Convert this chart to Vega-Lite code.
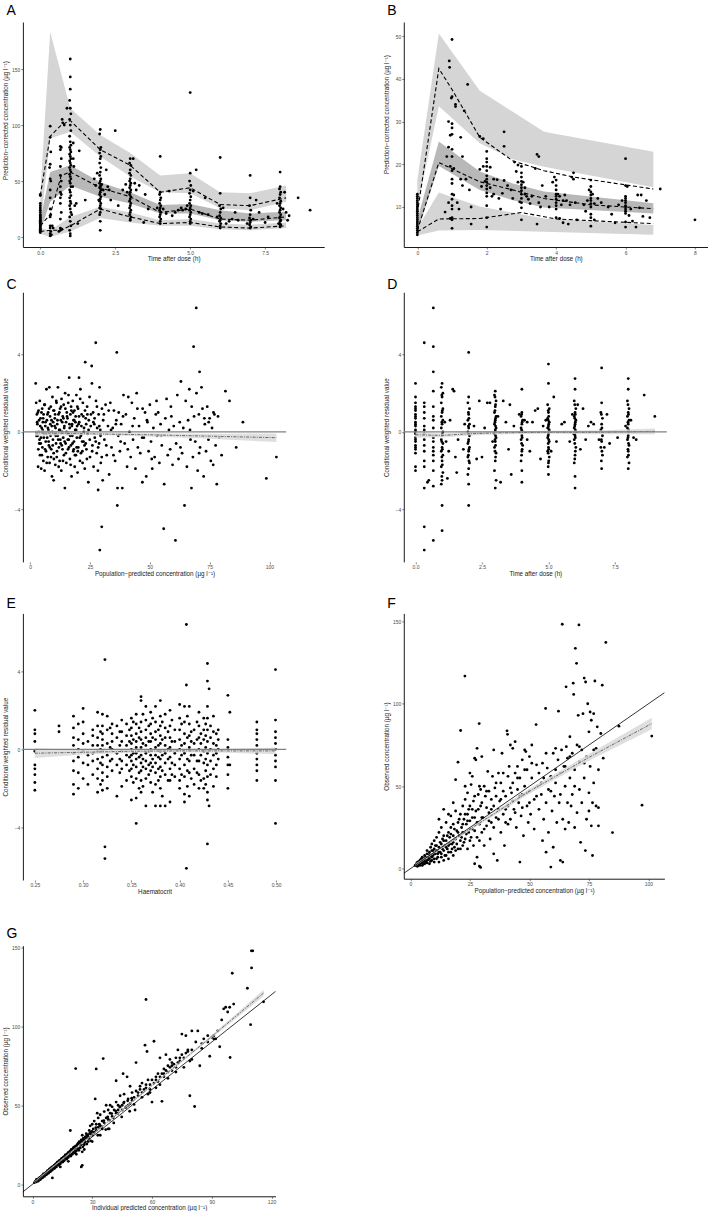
{
"$schema": "https://vega.github.io/schema/vega-lite/v6.json",
"background": "white",
"padding": {"left": 1.9, "top": 4, "right": 0, "bottom": 0},
"columns": 2,
"align": "each",
"spacing": {"row": 16.2, "column": 57.9},
"resolve": {"scale": {"x": "independent", "y": "independent"}, "axis": {"x": "independent", "y": "independent"}},
"datasets": {
"a_pi": [
{"g":"lo","x":0,"lo":3,"hi":8},{"g":"lo","x":0.33,"lo":0,"hi":6},{"g":"lo","x":1,"lo":5,"hi":18},{"g":"lo","x":2,"lo":17,"hi":27},{"g":"lo","x":3,"lo":13,"hi":22},{"g":"lo","x":4,"lo":10,"hi":15},{"g":"lo","x":5,"lo":10,"hi":16},{"g":"lo","x":6,"lo":7,"hi":12},{"g":"lo","x":7,"lo":6,"hi":11},{"g":"lo","x":8.2,"lo":8,"hi":13},
{"g":"hi","x":0,"lo":8,"hi":38},{"g":"hi","x":0.33,"lo":88,"hi":183},{"g":"hi","x":1,"lo":94,"hi":115},{"g":"hi","x":2,"lo":72,"hi":91},{"g":"hi","x":3,"lo":54,"hi":75},{"g":"hi","x":4,"lo":40,"hi":55},{"g":"hi","x":5,"lo":39,"hi":57},{"g":"hi","x":6,"lo":25.6,"hi":40},{"g":"hi","x":7,"lo":24,"hi":39},{"g":"hi","x":8.2,"lo":31.5,"hi":46}],
"a_med": [
{"x":0,"lo":5,"hi":15},{"x":0.33,"lo":31.5,"hi":58},{"x":1,"lo":46,"hi":64},{"x":2,"lo":36,"hi":49},{"x":3,"lo":30,"hi":40},{"x":4,"lo":21,"hi":28.5},{"x":5,"lo":21,"hi":29.5},{"x":6,"lo":15,"hi":24},{"x":7,"lo":13.7,"hi":21},{"x":8.2,"lo":15,"hi":22.6}],
"a_line": [
{"g":"p95","x":0,"y":37},{"g":"p95","x":0.33,"y":90},{"g":"p95","x":0.7,"y":100},{"g":"p95","x":1,"y":104},{"g":"p95","x":2,"y":78},{"g":"p95","x":3,"y":64},{"g":"p95","x":4,"y":40},{"g":"p95","x":5,"y":44},{"g":"p95","x":6,"y":29},{"g":"p95","x":7,"y":28},{"g":"p95","x":8.2,"y":35},
{"g":"p50","x":0,"y":10},{"g":"p50","x":0.33,"y":20},{"g":"p50","x":0.7,"y":55},{"g":"p50","x":1,"y":58},{"g":"p50","x":2,"y":44},{"g":"p50","x":3,"y":36},{"g":"p50","x":4,"y":22},{"g":"p50","x":5,"y":25},{"g":"p50","x":6,"y":16},{"g":"p50","x":7,"y":15},{"g":"p50","x":8.2,"y":18},
{"g":"p05","x":0,"y":5},{"g":"p05","x":0.33,"y":6},{"g":"p05","x":0.7,"y":6},{"g":"p05","x":1,"y":10},{"g":"p05","x":2,"y":25},{"g":"p05","x":3,"y":18},{"g":"p05","x":4,"y":12},{"g":"p05","x":5,"y":13},{"g":"p05","x":6,"y":9},{"g":"p05","x":7,"y":8},{"g":"p05","x":8.2,"y":10}],
"a_pts": [
{"x":0,"y":4},{"x":0,"y":5},{"x":0,"y":6},{"x":0,"y":7},{"x":0,"y":8},{"x":0,"y":9},{"x":0,"y":10},{"x":0,"y":11},{"x":0,"y":12},{"x":0,"y":13},{"x":0,"y":14},{"x":0,"y":15},{"x":0,"y":16},{"x":0,"y":17},{"x":0,"y":18},{"x":0,"y":19},{"x":0,"y":20},{"x":0,"y":22},{"x":0,"y":24},{"x":0,"y":26},{"x":0,"y":28},{"x":0,"y":30},{"x":0,"y":37},{"x":0,"y":38},
{"x":0.33,"y":99},{"x":0.33,"y":89},{"x":0.35,"y":76},{"x":0.33,"y":65},{"x":0.31,"y":62},{"x":0.33,"y":52},{"x":0.35,"y":50},{"x":0.33,"y":42},{"x":0.33,"y":35},{"x":0.33,"y":25},{"x":0.35,"y":20},{"x":0.33,"y":18},{"x":0.33,"y":10},{"x":0.4,"y":10},{"x":0.43,"y":8},{"x":0.33,"y":8},{"x":0.35,"y":5},{"x":0.33,"y":3},{"x":0.37,"y":2},{"x":0.33,"y":1},
{"x":0.73,"y":105},{"x":0.75,"y":102},{"x":0.8,"y":100},{"x":0.67,"y":81},{"x":0.7,"y":80},{"x":0.67,"y":78},{"x":0.7,"y":70},{"x":0.67,"y":63},{"x":0.67,"y":55},{"x":0.7,"y":50},{"x":0.67,"y":45},{"x":0.67,"y":40},{"x":0.7,"y":38},{"x":0.67,"y":35},{"x":0.67,"y":30},{"x":0.7,"y":22},{"x":0.67,"y":16},{"x":0.67,"y":8},{"x":0.72,"y":7},{"x":0.67,"y":6},{"x":0.62,"y":5},{"x":0.89,"y":115},
{"x":1,"y":159},{"x":1,"y":143},{"x":1,"y":132},{"x":0.98,"y":122},{"x":1,"y":115},{"x":1.02,"y":110},{"x":0.98,"y":105},{"x":1,"y":100},{"x":1.02,"y":95},{"x":0.98,"y":90},{"x":1,"y":85},{"x":1.02,"y":82},{"x":0.98,"y":80},{"x":1,"y":78},{"x":1.02,"y":76},{"x":0.98,"y":74},{"x":1,"y":72},{"x":1.02,"y":70},{"x":0.98,"y":68},{"x":1,"y":66},{"x":1.02,"y":64},{"x":0.98,"y":62},{"x":1,"y":60},{"x":1.02,"y":58},{"x":0.98,"y":56},{"x":1,"y":54},{"x":1.02,"y":52},{"x":0.98,"y":50},{"x":1,"y":48},{"x":1.02,"y":45},{"x":0.98,"y":42},{"x":1,"y":40},{"x":1.02,"y":37},{"x":0.98,"y":35},{"x":1,"y":32},{"x":1.02,"y":30},{"x":0.98,"y":28},{"x":1,"y":25},{"x":1.02,"y":22},{"x":0.98,"y":18},{"x":1,"y":14},{"x":1.02,"y":10},{"x":0.98,"y":6},{"x":1,"y":3},{"x":1,"y":1},
{"x":1.1,"y":84},{"x":1.12,"y":63},{"x":1.15,"y":28},{"x":1.2,"y":30},{"x":1.25,"y":12},{"x":1.3,"y":77},{"x":1.5,"y":33},{"x":1.1,"y":70},{"x":1.05,"y":20},{"x":1.08,"y":45},
{"x":2,"y":96},{"x":1.98,"y":92},{"x":2.02,"y":80},{"x":2,"y":78},{"x":1.98,"y":75},{"x":2.02,"y":72},{"x":2,"y":70},{"x":1.98,"y":66},{"x":2.02,"y":62},{"x":2,"y":58},{"x":1.98,"y":55},{"x":2.02,"y":52},{"x":2,"y":50},{"x":1.98,"y":48},{"x":2.02,"y":46},{"x":2,"y":45},{"x":1.98,"y":44},{"x":2.02,"y":42},{"x":2,"y":40},{"x":1.98,"y":38},{"x":2.02,"y":36},{"x":2,"y":34},{"x":1.98,"y":32},{"x":2.02,"y":30},{"x":2,"y":28},{"x":1.98,"y":26},{"x":2.02,"y":25},{"x":2,"y":22},{"x":1.98,"y":20},{"x":2,"y":14},{"x":2,"y":6},
{"x":1.9,"y":57},{"x":1.95,"y":33},{"x":2.05,"y":47},{"x":2.1,"y":42},{"x":2.15,"y":38},{"x":2.2,"y":60},{"x":2.25,"y":45},{"x":2.3,"y":42},{"x":2.5,"y":95},{"x":2.35,"y":33},{"x":2.6,"y":28},{"x":1.85,"y":46},{"x":1.8,"y":52},
{"x":3,"y":70},{"x":2.98,"y":66},{"x":3.02,"y":64},{"x":3,"y":60},{"x":2.98,"y":57},{"x":3.02,"y":55},{"x":3,"y":52},{"x":2.98,"y":50},{"x":3.02,"y":48},{"x":3,"y":46},{"x":2.98,"y":44},{"x":3.02,"y":42},{"x":3,"y":40},{"x":2.98,"y":38},{"x":3.02,"y":36},{"x":3,"y":34},{"x":2.98,"y":32},{"x":3.02,"y":30},{"x":3,"y":28},{"x":2.98,"y":26},{"x":3.02,"y":24},{"x":3,"y":22},{"x":2.98,"y":20},{"x":3.02,"y":18},{"x":3,"y":16},{"x":3,"y":15},
{"x":3.1,"y":70},{"x":3.15,"y":48},{"x":3.2,"y":42},{"x":3.3,"y":46},{"x":3.45,"y":13},{"x":3.5,"y":38},{"x":2.9,"y":40},{"x":2.85,"y":47},{"x":3.6,"y":25},{"x":2.75,"y":42},
{"x":4,"y":72},{"x":4,"y":40},{"x":3.98,"y":38},{"x":4.02,"y":35},{"x":4,"y":33},{"x":3.98,"y":30},{"x":4.02,"y":28},{"x":4,"y":26},{"x":3.98,"y":24},{"x":4.02,"y":22},{"x":4,"y":20},{"x":3.98,"y":18},{"x":4.02,"y":16},{"x":4,"y":14},{"x":4,"y":12},
{"x":4.1,"y":25},{"x":4.2,"y":21},{"x":4.3,"y":41},{"x":4.5,"y":22},{"x":4.6,"y":24},{"x":4.7,"y":26},{"x":4.4,"y":19},{"x":3.9,"y":26},
{"x":5,"y":129},{"x":5,"y":57},{"x":4.98,"y":50},{"x":5.02,"y":46},{"x":5,"y":42},{"x":4.98,"y":39},{"x":5.02,"y":36},{"x":5,"y":33},{"x":4.98,"y":30},{"x":5.02,"y":28},{"x":5,"y":26},{"x":4.98,"y":24},{"x":5.02,"y":22},{"x":5,"y":20},{"x":4.98,"y":18},{"x":5.02,"y":16},{"x":5,"y":14},{"x":5,"y":12},
{"x":5.2,"y":60},{"x":5.1,"y":41},{"x":5.3,"y":22},{"x":5.5,"y":35},{"x":5.6,"y":20},{"x":4.9,"y":28},{"x":4.85,"y":25},{"x":4.75,"y":24},{"x":5.4,"y":21},
{"x":6,"y":71},{"x":6,"y":39},{"x":5.98,"y":28},{"x":6.02,"y":25},{"x":6,"y":22},{"x":5.98,"y":19},{"x":6.02,"y":17},{"x":6,"y":15},{"x":5.98,"y":14},{"x":6.02,"y":12},{"x":6,"y":10},{"x":6,"y":8},
{"x":6.1,"y":26},{"x":6.2,"y":12},{"x":6.3,"y":14},{"x":6.5,"y":22},{"x":6.6,"y":15},{"x":6.4,"y":16},{"x":5.9,"y":18},
{"x":7,"y":55},{"x":7,"y":35},{"x":6.98,"y":28},{"x":7.02,"y":24},{"x":7,"y":20},{"x":6.98,"y":17},{"x":7.02,"y":15},{"x":7,"y":13},{"x":6.98,"y":11},{"x":7.02,"y":9},{"x":7,"y":8},
{"x":7.1,"y":16},{"x":7.2,"y":33},{"x":7.3,"y":22},{"x":7.5,"y":13},{"x":7.6,"y":18},{"x":6.9,"y":12},
{"x":8,"y":58},{"x":8,"y":45},{"x":7.98,"y":43},{"x":8.02,"y":40},{"x":8,"y":38},{"x":7.98,"y":35},{"x":8.02,"y":32},{"x":8,"y":30},{"x":7.98,"y":28},{"x":8.02,"y":26},{"x":8,"y":24},{"x":7.98,"y":22},{"x":8.02,"y":20},{"x":8,"y":18},{"x":7.98,"y":17},{"x":8.02,"y":15},{"x":8,"y":14},{"x":7.98,"y":12},{"x":8.02,"y":11},{"x":8,"y":10},{"x":8,"y":9},
{"x":8.1,"y":25},{"x":8.15,"y":40},{"x":8.2,"y":22},{"x":8.25,"y":15},{"x":8.3,"y":19},{"x":7.9,"y":30},{"x":7.95,"y":12},{"x":8.6,"y":35},{"x":9.0,"y":24}],
"b_pi": [
{"g":"lo","x":0,"lo":3.3,"hi":5},{"g":"lo","x":0.62,"lo":4.5,"hi":13.4},{"g":"lo","x":1.8,"lo":4.6,"hi":10.1},{"g":"lo","x":3.65,"lo":4.2,"hi":7.3},{"g":"lo","x":6.8,"lo":3.5,"hi":5.8},
{"g":"hi","x":0,"lo":10,"hi":16.3},{"g":"hi","x":0.62,"lo":33.6,"hi":50.6},{"g":"hi","x":1.8,"lo":24.9,"hi":37.2},{"g":"hi","x":2.75,"lo":21.2,"hi":32.3},{"g":"hi","x":3.65,"lo":19.4,"hi":27.6},{"g":"hi","x":6.8,"lo":14.6,"hi":22.9}],
"b_med": [
{"x":0,"lo":4,"hi":7},{"x":0.62,"lo":19.6,"hi":25.3},{"x":1.8,"lo":14,"hi":18.3},{"x":2.75,"lo":11.6,"hi":15.5},{"x":3.65,"lo":9.9,"hi":13.6},{"x":6.8,"lo":8.5,"hi":10.9}],
"b_line": [
{"g":"p95","x":0,"y":8.5},{"g":"p95","x":0.62,"y":42.4},{"g":"p95","x":1.0,"y":37.5},{"g":"p95","x":1.8,"y":26.3},{"g":"p95","x":2.75,"y":20.8},{"g":"p95","x":3.65,"y":18.5},{"g":"p95","x":4.5,"y":17},{"g":"p95","x":6.8,"y":14.2},
{"g":"p50","x":0,"y":4.5},{"g":"p50","x":0.62,"y":20.4},{"g":"p50","x":1.8,"y":15.9},{"g":"p50","x":2.75,"y":14},{"g":"p50","x":3.65,"y":12},{"g":"p50","x":5,"y":10.5},{"g":"p50","x":6.8,"y":9.6},
{"g":"p05","x":0,"y":4.2},{"g":"p05","x":0.62,"y":7.2},{"g":"p05","x":1.8,"y":7.3},{"g":"p05","x":3,"y":8.7},{"g":"p05","x":4,"y":7.2},{"g":"p05","x":5,"y":6.8},{"g":"p05","x":6.8,"y":6.1}],
"b_pts": [
{"x":0,"y":3.5},{"x":0,"y":4},{"x":0,"y":4.5},{"x":0,"y":5},{"x":0,"y":5.5},{"x":0,"y":6},{"x":0,"y":6.5},{"x":0,"y":7},{"x":0,"y":7.5},{"x":0,"y":8},{"x":0,"y":8.5},{"x":0,"y":9},{"x":0,"y":9.5},{"x":0,"y":10},{"x":0,"y":10.5},{"x":0,"y":11},{"x":0,"y":11.5},{"x":0,"y":12},{"x":0,"y":12.5},{"x":0,"y":13},
{"x":0.8,"y":8.8},{"x":0.85,"y":21.8},{"x":0.9,"y":30},{"x":0.9,"y":24},{"x":0.92,"y":44.2},{"x":0.93,"y":42.7},{"x":0.95,"y":26.8},{"x":0.95,"y":19.5},{"x":0.98,"y":35.5},{"x":1.0,"y":49.2},{"x":1.0,"y":35.8},{"x":1.0,"y":29.5},{"x":1.0,"y":28.5},{"x":1.0,"y":27},{"x":1.0,"y":23.5},{"x":1.0,"y":21.8},{"x":1.0,"y":18.5},{"x":1.0,"y":16.5},{"x":1.0,"y":15.5},{"x":1.0,"y":13},{"x":1.0,"y":11.8},{"x":1.0,"y":10.3},{"x":1.0,"y":7.5},{"x":1.0,"y":7},{"x":1.0,"y":5},{"x":1.05,"y":19},{"x":1.05,"y":12.8},{"x":1.1,"y":34},{"x":1.1,"y":33.5},{"x":1.15,"y":11},{"x":1.2,"y":9.5},{"x":1.25,"y":26.3},{"x":1.25,"y":16.5},{"x":1.3,"y":21.8},{"x":1.3,"y":15},{"x":1.35,"y":32.5},{"x":1.4,"y":16.5},{"x":1.45,"y":38.7},{"x":1.5,"y":14},{"x":1.55,"y":6},{"x":1.55,"y":10},{"x":0.9,"y":11},{"x":0.95,"y":7.3},{"x":1.0,"y":9.5},
{"x":1.8,"y":26.5},{"x":1.8,"y":18.8},{"x":1.85,"y":14.8},{"x":1.9,"y":26},{"x":1.9,"y":19.5},{"x":1.95,"y":16},{"x":2.0,"y":23},{"x":2.0,"y":21.3},{"x":2.0,"y":20.5},{"x":2.0,"y":19.5},{"x":2.0,"y":18.5},{"x":2.0,"y":17.3},{"x":2.0,"y":16.5},{"x":2.0,"y":15.8},{"x":2.0,"y":15},{"x":2.0,"y":14.2},{"x":2.0,"y":13.3},{"x":2.0,"y":12.5},{"x":2.0,"y":10.3},{"x":2.0,"y":7.5},{"x":2.0,"y":5.3},{"x":2.1,"y":19.3},{"x":2.1,"y":14.5},{"x":2.15,"y":12.5},{"x":2.2,"y":16.5},{"x":2.2,"y":13},{"x":2.3,"y":16.4},{"x":2.35,"y":12},{"x":2.4,"y":9.5},{"x":2.5,"y":27.6},{"x":2.5,"y":24.2},{"x":2.5,"y":16.2},{"x":2.45,"y":13.2},{"x":2.6,"y":15},{"x":2.7,"y":14},{"x":2.75,"y":12},
{"x":2.8,"y":20.5},{"x":2.85,"y":18.3},{"x":2.9,"y":19.8},{"x":2.9,"y":15.8},{"x":2.95,"y":11.2},{"x":3.0,"y":19.5},{"x":3.0,"y":18},{"x":3.0,"y":17},{"x":3.0,"y":16},{"x":3.0,"y":15.2},{"x":3.0,"y":14.5},{"x":3.0,"y":13.8},{"x":3.0,"y":13},{"x":3.0,"y":12},{"x":3.0,"y":11},{"x":3.0,"y":9.8},{"x":3.0,"y":7},{"x":3.05,"y":15.8},{"x":3.1,"y":14.5},{"x":3.1,"y":13},{"x":3.15,"y":12.5},{"x":3.2,"y":11.8},{"x":3.25,"y":10.8},{"x":3.3,"y":12.5},{"x":3.4,"y":19},{"x":3.45,"y":22.3},{"x":3.5,"y":21.8},{"x":3.5,"y":11},{"x":3.55,"y":10},{"x":3.45,"y":6},{"x":3.6,"y":15},{"x":3.7,"y":12.5},{"x":3.8,"y":10},
{"x":3.9,"y":15.8},{"x":3.95,"y":17},{"x":4.0,"y":16.3},{"x":4.0,"y":15},{"x":4.0,"y":14},{"x":4.0,"y":13},{"x":4.0,"y":12.5},{"x":4.0,"y":11.8},{"x":4.0,"y":11},{"x":4.0,"y":10.3},{"x":4.0,"y":9.5},{"x":4.0,"y":7.5},{"x":4.05,"y":13},{"x":4.1,"y":12.5},{"x":4.1,"y":7.3},{"x":4.15,"y":10.5},{"x":4.2,"y":11.5},{"x":4.2,"y":6.3},{"x":4.25,"y":12.8},{"x":4.3,"y":11.5},{"x":4.35,"y":6},{"x":4.4,"y":10.5},{"x":4.45,"y":17},{"x":4.5,"y":18},{"x":4.5,"y":16.5},{"x":4.55,"y":11},{"x":4.6,"y":7},
{"x":4.8,"y":10.5},{"x":4.85,"y":9},{"x":4.9,"y":11.5},{"x":4.95,"y":14},{"x":5.0,"y":16.3},{"x":5.0,"y":14.8},{"x":5.0,"y":13.5},{"x":5.0,"y":12.8},{"x":5.0,"y":12},{"x":5.0,"y":11.5},{"x":5.0,"y":10.8},{"x":5.0,"y":10},{"x":5.0,"y":8.3},{"x":5.0,"y":7.5},{"x":5.0,"y":5.5},{"x":5.05,"y":13},{"x":5.1,"y":10.8},{"x":5.1,"y":7},{"x":5.2,"y":12},{"x":5.3,"y":11},
{"x":5.5,"y":10},{"x":5.6,"y":8.3},{"x":5.7,"y":6.3},{"x":5.8,"y":10.5},{"x":5.9,"y":11.5},{"x":6.0,"y":21.3},{"x":6.0,"y":15},{"x":6.0,"y":12.5},{"x":6.0,"y":12},{"x":6.0,"y":11.5},{"x":6.0,"y":11},{"x":6.0,"y":10.3},{"x":6.0,"y":10},{"x":6.0,"y":9.5},{"x":6.0,"y":9},{"x":6.0,"y":8.5},{"x":6.0,"y":6.5},{"x":6.0,"y":5.3},{"x":6.05,"y":14.8},{"x":6.1,"y":8},{"x":6.15,"y":9.5},{"x":6.2,"y":6.7},{"x":6.3,"y":5.3},{"x":6.35,"y":12.8},{"x":6.4,"y":9.8},{"x":6.45,"y":12.8},{"x":6.5,"y":7.8},{"x":6.6,"y":11.5},{"x":6.7,"y":7.5},{"x":7.0,"y":14.2},{"x":8.0,"y":7}],
"c_pts": [
{"x":2.3,"y":2.5},{"x":2.5,"y":1.5},{"x":2.8,"y":0.9},{"x":3.0,"y":0.4},{"x":3.1,"y":-0.2},{"x":3.3,"y":-1.8},{"x":3.5,"y":1.1},{"x":3.6,"y":0.0},{"x":3.8,"y":-0.6},{"x":4.0,"y":1.6},{"x":4.1,"y":-1.2},{"x":4.3,"y":0.7},{"x":4.5,"y":-0.3},{"x":4.6,"y":-1.9},{"x":4.8,"y":0.2},{"x":5.0,"y":1.2},{"x":5.1,"y":-0.8},{"x":5.3,"y":0.5},{"x":5.5,"y":-1.5},{"x":5.6,"y":0.9},{"x":5.8,"y":-0.1},{"x":6.0,"y":-2.0},{"x":6.1,"y":1.4},{"x":6.3,"y":0.3},{"x":6.5,"y":-0.5},{"x":6.6,"y":-1.0},{"x":6.8,"y":2.2},{"x":7.0,"y":0.6},{"x":7.1,"y":-0.3},{"x":7.3,"y":-1.3},{"x":7.5,"y":1.0},{"x":7.6,"y":0.1},{"x":7.8,"y":-0.7},{"x":8.0,"y":2.3},{"x":8.1,"y":-1.6},{"x":8.3,"y":0.8},{"x":8.5,"y":-0.2},{"x":8.6,"y":1.3},{"x":8.8,"y":-0.9},{"x":9.0,"y":0.3},{"x":9.1,"y":-2.3},{"x":9.3,"y":1.8},{"x":9.5,"y":-0.4},{"x":9.6,"y":0.5},{"x":9.8,"y":-1.1},{"x":9.8,"y":-2.5},{"x":10.0,"y":1.1},{"x":10.1,"y":-0.1},{"x":10.3,"y":0.7},{"x":10.5,"y":-1.7},{"x":10.6,"y":0.2},{"x":10.8,"y":-0.6},{"x":11.0,"y":1.5},{"x":11.1,"y":-1.3},{"x":11.3,"y":0.4},{"x":11.5,"y":-0.2},{"x":11.6,"y":2.3},{"x":11.8,"y":0.9},{"x":12.0,"y":-0.8},{"x":12.1,"y":0.1},{"x":12.3,"y":-1.5},{"x":12.5,"y":1.2},{"x":12.6,"y":-0.4},{"x":12.8,"y":0.6},{"x":13.0,"y":-2.0},{"x":13.1,"y":1.7},{"x":13.3,"y":0.0},{"x":13.5,"y":-0.9},{"x":13.6,"y":0.8},{"x":13.8,"y":-0.3},{"x":14.0,"y":1.4},{"x":14.1,"y":-1.2},{"x":14.3,"y":0.3},{"x":14.5,"y":-2.9},{"x":14.6,"y":2.0},{"x":14.8,"y":-0.6},{"x":15.0,"y":0.5},{"x":15.1,"y":-1.6},{"x":15.3,"y":1.0},{"x":15.5,"y":-0.1},{"x":15.6,"y":0.7},{"x":15.8,"y":-0.9},{"x":16.0,"y":1.9},{"x":16.1,"y":-0.4},{"x":16.3,"y":2.8},{"x":16.5,"y":0.2},{"x":16.6,"y":-1.4},{"x":16.8,"y":0.9},{"x":17.0,"y":-0.7},{"x":17.1,"y":1.3},{"x":17.3,"y":-2.3},{"x":17.5,"y":0.4},{"x":17.6,"y":-0.2},{"x":17.8,"y":1.6},{"x":18.0,"y":-1.0},{"x":18.1,"y":0.6},{"x":18.3,"y":-0.5},{"x":18.5,"y":1.1},{"x":18.6,"y":-1.8},{"x":18.8,"y":0.1},{"x":19.0,"y":0.8},{"x":19.1,"y":-1.2},{"x":19.3,"y":1.9},{"x":19.5,"y":-0.3},{"x":19.6,"y":0.3},{"x":19.8,"y":-2.1},{"x":20.0,"y":1.2},{"x":20.1,"y":-0.8},{"x":20.4,"y":2.8},{"x":20.5,"y":0.5},{"x":20.8,"y":-1.5},{"x":21.0,"y":2.2},{"x":21.2,"y":-0.2},{"x":21.5,"y":0.9},{"x":21.8,"y":-1.0},{"x":22.0,"y":1.5},{"x":22.3,"y":-0.5},{"x":22.5,"y":0.2},{"x":22.8,"y":-1.9},{"x":23.0,"y":3.6},{"x":23.2,"y":0.7},{"x":23.5,"y":-0.9},{"x":23.8,"y":1.3},{"x":24.0,"y":-0.1},{"x":24.3,"y":-2.6},{"x":24.5,"y":0.6},{"x":24.8,"y":1.8},{"x":25.0,"y":-1.3},{"x":25.3,"y":0.3},{"x":25.7,"y":3.4},{"x":25.8,"y":2.5},{"x":26.0,"y":-0.7},{"x":26.3,"y":1.0},{"x":26.5,"y":-1.8},{"x":26.8,"y":0.4},{"x":27.0,"y":-0.3},{"x":27.4,"y":4.6},{"x":27.5,"y":1.6},{"x":27.8,"y":-1.1},{"x":28.0,"y":0.2},{"x":28.3,"y":-2.0},{"x":28.4,"y":-3.0},{"x":28.6,"y":0.9},{"x":28.8,"y":-0.6},{"x":29.0,"y":2.3},{"x":29.1,"y":-6.1},{"x":29.3,"y":0.1},{"x":29.5,"y":-1.6},{"x":29.9,"y":-4.9},{"x":30.0,"y":1.2},{"x":30.3,"y":-2.5},{"x":30.5,"y":0.6},{"x":31.0,"y":-0.4},{"x":31.5,"y":1.4},{"x":32.0,"y":-1.2},{"x":32.5,"y":0.3},{"x":33.0,"y":-2.2},{"x":33.5,"y":1.5},{"x":34.0,"y":-0.8},{"x":34.5,"y":0.2},{"x":35.0,"y":1.1},{"x":35.5,"y":-1.5},{"x":36.0,"y":0.6},{"x":36.2,"y":4.1},{"x":36.4,"y":-3.8},{"x":36.5,"y":-2.9},{"x":36.8,"y":-0.2},{"x":37.0,"y":1.0},{"x":37.5,"y":-1.0},{"x":38.0,"y":0.4},{"x":38.5,"y":-2.9},{"x":39.0,"y":1.9},{"x":39.5,"y":-0.6},{"x":40.0,"y":0.9},{"x":40.5,"y":-1.8},{"x":41.0,"y":1.8},{"x":41.5,"y":0.0},{"x":42.0,"y":-1.3},{"x":42.5,"y":1.5},{"x":43.0,"y":-0.4},{"x":43.5,"y":0.7},{"x":44.0,"y":-1.9},{"x":44.5,"y":2.0},{"x":45.0,"y":-0.8},{"x":45.5,"y":0.3},{"x":46.0,"y":-1.1},{"x":46.9,"y":-2.6},{"x":47.0,"y":1.2},{"x":47.5,"y":-0.3},{"x":48.0,"y":1.0},{"x":48.5,"y":-2.3},{"x":49.0,"y":0.5},{"x":49.5,"y":-1.0},{"x":50.0,"y":1.4},{"x":50.5,"y":-0.5},{"x":51.0,"y":-1.9},{"x":51.5,"y":0.2},{"x":52.0,"y":-1.3},{"x":52.5,"y":0.9},{"x":53.0,"y":-0.2},{"x":53.5,"y":1.0},{"x":54.0,"y":-1.6},{"x":54.5,"y":0.4},{"x":55.0,"y":-0.7},{"x":55.8,"y":-5.0},{"x":56.0,"y":-2.7},{"x":56.5,"y":0.7},{"x":57.0,"y":1.7},{"x":57.5,"y":-1.2},{"x":58.0,"y":0.1},{"x":58.5,"y":-0.9},{"x":59.0,"y":0.8},{"x":59.5,"y":-1.7},{"x":60.0,"y":0.3},{"x":60.7,"y":-5.6},{"x":61.0,"y":-0.6},{"x":61.5,"y":1.9},{"x":62.0,"y":-1.4},{"x":62.5,"y":0.5},{"x":63.0,"y":2.6},{"x":63.5,"y":-1.1},{"x":64.0,"y":0.2},{"x":64.5,"y":-3.8},{"x":65.0,"y":1.6},{"x":65.5,"y":-1.8},{"x":66.0,"y":0.6},{"x":66.5,"y":2.2},{"x":67.0,"y":-0.4},{"x":67.4,"y":-2.9},{"x":67.5,"y":1.3},{"x":68.3,"y":4.4},{"x":68.0,"y":-1.3},{"x":68.5,"y":0.8},{"x":69.0,"y":-0.5},{"x":69.4,"y":6.4},{"x":69.5,"y":2.0},{"x":70.0,"y":-2.0},{"x":70.5,"y":0.9},{"x":70.8,"y":3.1},{"x":71.0,"y":-0.8},{"x":71.6,"y":2.3},{"x":72.0,"y":1.2},{"x":72.5,"y":-2.3},{"x":73.0,"y":0.4},{"x":73.5,"y":-1.0},{"x":74.0,"y":1.3},{"x":74.5,"y":-0.4},{"x":75.0,"y":0.7},{"x":75.5,"y":-1.5},{"x":76.0,"y":0.2},{"x":76.5,"y":-1.7},{"x":77.0,"y":0.9},{"x":77.5,"y":-0.7},{"x":78.0,"y":-2.7},{"x":78.5,"y":0.8},{"x":79.0,"y":-0.3},{"x":80.0,"y":-1.2},{"x":81.6,"y":2.1},{"x":83.3,"y":1.6},{"x":86.1,"y":-0.8},{"x":88.9,"y":0.5},{"x":98.7,"y":-2.4},{"x":102.9,"y":-1.3},
{"x":4.2,"y":0.3},{"x":4.4,"y":-0.6},{"x":4.7,"y":1.0},{"x":4.9,"y":-1.2},{"x":5.2,"y":0.1},{"x":5.4,"y":0.7},{"x":5.7,"y":-0.3},{"x":5.9,"y":1.4},{"x":6.2,"y":-0.9},{"x":6.4,"y":0.5},{"x":6.7,"y":-0.1},{"x":6.9,"y":-1.6},{"x":7.2,"y":0.9},{"x":7.4,"y":0.2},{"x":7.7,"y":-0.5},{"x":7.9,"y":1.2},{"x":8.2,"y":-0.8},{"x":8.4,"y":0.4},{"x":8.7,"y":-1.3},{"x":8.9,"y":0.6},
{"x":9.2,"y":0.0},{"x":9.4,"y":-0.7},{"x":9.7,"y":1.1},{"x":9.9,"y":-1.4},{"x":10.2,"y":0.3},{"x":10.4,"y":0.9},{"x":10.7,"y":-0.2},{"x":10.9,"y":1.6},{"x":11.2,"y":-1.0},{"x":11.4,"y":0.6},{"x":11.7,"y":-0.4},{"x":11.9,"y":-1.8},{"x":12.2,"y":1.0},{"x":12.4,"y":0.1},{"x":12.7,"y":-0.6},{"x":12.9,"y":1.3},{"x":13.2,"y":-0.7},{"x":13.4,"y":0.5},{"x":13.7,"y":-1.5},{"x":13.9,"y":0.7},
{"x":14.2,"y":0.2},{"x":14.4,"y":-0.5},{"x":14.7,"y":1.2},{"x":14.9,"y":-1.1},{"x":15.2,"y":0.0},{"x":15.4,"y":0.8},{"x":15.7,"y":-0.4},{"x":15.9,"y":1.5},{"x":16.2,"y":-0.8},{"x":16.4,"y":0.4},{"x":16.7,"y":-0.2},{"x":16.9,"y":-1.7},{"x":17.2,"y":1.1},{"x":17.4,"y":0.3},{"x":17.7,"y":-0.6},{"x":17.9,"y":1.0},{"x":18.2,"y":-0.9},{"x":18.4,"y":0.6},{"x":18.7,"y":-1.2},{"x":18.9,"y":0.5},
{"x":19.2,"y":0.1},{"x":19.4,"y":-0.8},{"x":19.7,"y":1.3},{"x":19.9,"y":-1.0},{"x":20.2,"y":0.4},{"x":20.4,"y":0.8},{"x":20.7,"y":-0.3},{"x":20.9,"y":1.7},{"x":21.2,"y":-1.1},{"x":21.4,"y":0.3},{"x":21.7,"y":-0.5},{"x":21.9,"y":-1.6},{"x":22.2,"y":0.8},{"x":22.4,"y":0.0},{"x":22.7,"y":-0.7},{"x":22.9,"y":1.1},{"x":23.2,"y":-0.6},{"x":23.4,"y":0.4},{"x":23.7,"y":-1.4},{"x":23.9,"y":0.9},
{"x":24.4,"y":0.1},{"x":24.9,"y":-0.4},{"x":25.4,"y":0.9},{"x":25.9,"y":-1.0},{"x":26.4,"y":0.5},{"x":26.9,"y":0.7},{"x":27.4,"y":-0.5},{"x":27.9,"y":1.3},{"x":28.4,"y":-0.8},{"x":28.9,"y":0.3},{"x":29.4,"y":-0.2},{"x":29.9,"y":-1.3},
{"x":2.6,"y":-0.2},{"x":2.9,"y":0.5},{"x":3.2,"y":1.0},{"x":3.4,"y":-0.9},{"x":3.7,"y":0.6},{"x":3.9,"y":-0.4},
{"x":30.8,"y":0.9},{"x":31.8,"y":-0.7},{"x":32.8,"y":1.1},{"x":33.8,"y":0.1},{"x":34.8,"y":-1.2},{"x":35.8,"y":0.4},{"x":37.8,"y":-0.5},{"x":38.8,"y":0.8},{"x":40.8,"y":-0.9},{"x":42.8,"y":0.3},{"x":44.8,"y":1.2},{"x":46.8,"y":-0.3},{"x":48.8,"y":0.6},{"x":50.8,"y":-1.4},{"x":52.8,"y":1.6},{"x":54.8,"y":-0.2},{"x":58.8,"y":1.3},{"x":62.8,"y":-0.8},{"x":66.8,"y":0.1},{"x":70.6,"y":-1.1},{"x":74.6,"y":0.5},{"x":76.6,"y":1.0},{"x":72.8,"y":0.7}],
"c_fit": [{"x":2,"y":-0.05,"lo":-0.2,"hi":0.1},{"x":25,"y":-0.1,"lo":-0.16,"hi":-0.04},{"x":50,"y":-0.15,"lo":-0.24,"hi":-0.07},{"x":75,"y":-0.22,"lo":-0.36,"hi":-0.09},{"x":102.9,"y":-0.3,"lo":-0.52,"hi":-0.08}],
"d_pts": [
{"x":0,"y":2.5},{"x":0,"y":1.8},{"x":0,"y":1.5},{"x":0,"y":1.3},{"x":0,"y":1.1},{"x":0,"y":0.9},{"x":0,"y":0.7},{"x":0,"y":0.5},{"x":0,"y":0.3},{"x":0,"y":0.1},{"x":0,"y":-0.1},{"x":0,"y":-0.3},{"x":0,"y":-0.5},{"x":0,"y":-0.7},{"x":0,"y":-0.9},{"x":0,"y":-1.1},{"x":0,"y":-1.8},{"x":0,"y":-2.0},
{"x":0.33,"y":4.6},{"x":0.33,"y":1.5},{"x":0.33,"y":1.3},{"x":0.33,"y":0.7},{"x":0.33,"y":0.3},{"x":0.33,"y":-0.1},{"x":0.33,"y":-0.4},{"x":0.33,"y":-1.0},{"x":0.33,"y":-1.5},{"x":0.33,"y":-1.8},{"x":0.33,"y":-2.9},{"x":0.33,"y":-4.9},{"x":0.33,"y":-6.1},
{"x":0.67,"y":6.4},{"x":0.67,"y":4.4},{"x":0.67,"y":3.1},{"x":0.67,"y":2.1},{"x":0.67,"y":0.8},{"x":0.67,"y":0.6},{"x":0.67,"y":0.2},{"x":0.67,"y":-0.3},{"x":0.67,"y":-0.8},{"x":0.67,"y":-1.2},{"x":0.67,"y":-1.5},{"x":0.67,"y":-2.0},{"x":0.67,"y":-2.8},{"x":0.67,"y":-5.6},{"x":0.45,"y":-2.6},{"x":0.5,"y":-2.5},
{"x":1,"y":2.5},{"x":0.97,"y":2.3},{"x":1.03,"y":2.0},{"x":1,"y":1.8},{"x":0.97,"y":1.5},{"x":1.03,"y":1.2},{"x":1,"y":1.0},{"x":0.97,"y":0.8},{"x":1.03,"y":0.6},{"x":1,"y":0.4},{"x":0.97,"y":0.2},{"x":1.03,"y":0.0},{"x":1,"y":-0.2},{"x":0.97,"y":-0.4},{"x":1.03,"y":-0.6},{"x":1,"y":-0.8},{"x":0.97,"y":-1.0},{"x":1.03,"y":-1.2},{"x":1,"y":-1.5},{"x":0.97,"y":-1.8},{"x":1.03,"y":-2.1},{"x":1,"y":-2.5},{"x":0.97,"y":-2.7},{"x":1,"y":-3.8},{"x":1,"y":-5.1},
{"x":1.1,"y":0.5},{"x":1.15,"y":-0.5},{"x":1.2,"y":-2.4},{"x":1.25,"y":-1.0},{"x":1.3,"y":0.6},{"x":1.4,"y":2.2},{"x":1.45,"y":2.1},{"x":1.5,"y":-1.3},{"x":1.55,"y":-2.1},{"x":1.6,"y":-0.4},
{"x":2,"y":4.1},{"x":2,"y":1.8},{"x":1.97,"y":1.5},{"x":2.03,"y":1.2},{"x":2,"y":0.9},{"x":1.97,"y":0.6},{"x":2.03,"y":0.4},{"x":2,"y":0.2},{"x":1.97,"y":0.0},{"x":2.03,"y":-0.2},{"x":2,"y":-0.4},{"x":1.97,"y":-0.6},{"x":2.03,"y":-0.8},{"x":2,"y":-1.0},{"x":1.97,"y":-1.3},{"x":2.03,"y":-1.6},{"x":2,"y":-1.9},{"x":1.97,"y":-2.2},{"x":2,"y":-2.7},{"x":2,"y":-3.8},
{"x":2.2,"y":0.3},{"x":2.3,"y":-1.4},{"x":2.4,"y":1.6},{"x":2.5,"y":-1.3},{"x":2.6,"y":0.2},{"x":2.7,"y":1.5},{"x":1.8,"y":-0.9},{"x":1.85,"y":0.4},
{"x":3,"y":2.1},{"x":2.97,"y":1.9},{"x":3.03,"y":1.6},{"x":3,"y":1.3},{"x":2.97,"y":1.0},{"x":3.03,"y":0.8},{"x":3,"y":0.6},{"x":2.97,"y":0.4},{"x":3.03,"y":0.2},{"x":3,"y":0.1},{"x":2.97,"y":-0.1},{"x":3.03,"y":-0.3},{"x":3,"y":-0.5},{"x":2.97,"y":-0.8},{"x":3.03,"y":-1.1},{"x":3,"y":-1.5},{"x":2.97,"y":-2.0},{"x":3.03,"y":-2.5},{"x":3,"y":-2.9},
{"x":2.8,"y":1.5},{"x":2.9,"y":-0.5},{"x":3.1,"y":0.8},{"x":3.2,"y":-2.6},{"x":3.3,"y":1.6},{"x":3.4,"y":0.5},{"x":3.5,"y":-0.9},{"x":3.6,"y":-2.2},{"x":3.7,"y":0.3},{"x":3.55,"y":1.4},
{"x":4,"y":2.2},{"x":4,"y":1.0},{"x":3.97,"y":0.8},{"x":4.03,"y":0.6},{"x":4,"y":0.4},{"x":3.97,"y":0.2},{"x":4.03,"y":0.0},{"x":4,"y":-0.2},{"x":3.97,"y":-0.4},{"x":4.03,"y":-0.7},{"x":4,"y":-1.0},{"x":3.97,"y":-1.5},{"x":4,"y":-2.0},{"x":4,"y":-2.6},
{"x":3.9,"y":0.9},{"x":4.1,"y":0.6},{"x":4.2,"y":-0.4},{"x":4.3,"y":-1.0},{"x":4.4,"y":0.5},{"x":4.5,"y":1.1},{"x":4.6,"y":1.2},{"x":4.7,"y":-1.4},{"x":4.8,"y":0.3},{"x":4.2,"y":0.5},
{"x":5,"y":3.5},{"x":5,"y":2.5},{"x":4.97,"y":1.4},{"x":5.03,"y":1.2},{"x":5,"y":1.0},{"x":4.97,"y":0.7},{"x":5.03,"y":0.5},{"x":5,"y":0.3},{"x":4.97,"y":0.2},{"x":5.03,"y":0.1},{"x":5,"y":-0.1},{"x":4.97,"y":-0.3},{"x":5.03,"y":-0.5},{"x":5,"y":-0.8},{"x":4.97,"y":-1.0},{"x":5.03,"y":-1.3},{"x":5,"y":-1.6},{"x":5,"y":-2.2},
{"x":4.9,"y":0.6},{"x":5.1,"y":-1.0},{"x":5.2,"y":1.8},{"x":5.3,"y":-0.5},{"x":5.5,"y":0.4},{"x":5.6,"y":0.5},{"x":5.8,"y":-0.5},{"x":5.9,"y":0.9},
{"x":6,"y":2.75},{"x":6,"y":2.2},{"x":5.97,"y":1.6},{"x":6.03,"y":1.2},{"x":6,"y":1.0},{"x":5.97,"y":0.8},{"x":6.03,"y":0.6},{"x":6,"y":0.4},{"x":5.97,"y":0.2},{"x":6.03,"y":0.0},{"x":6,"y":-0.2},{"x":5.97,"y":-0.4},{"x":6.03,"y":-0.8},{"x":6,"y":-1.2},{"x":5.97,"y":-1.6},{"x":6,"y":-2.3},{"x":6,"y":-2.9},
{"x":6.1,"y":1.4},{"x":6.2,"y":-0.9},{"x":6.3,"y":1.2},{"x":6.4,"y":-0.4},{"x":6.5,"y":0.3},{"x":6.6,"y":0.5},{"x":6.7,"y":0.4},{"x":5.95,"y":-0.1},
{"x":7,"y":3.3},{"x":7,"y":1.5},{"x":6.97,"y":1.0},{"x":7.03,"y":0.7},{"x":7,"y":0.4},{"x":6.97,"y":0.1},{"x":7.03,"y":-0.2},{"x":7,"y":-0.5},{"x":6.97,"y":-0.8},{"x":7.03,"y":-1.2},{"x":7,"y":-1.9},
{"x":6.9,"y":-0.4},{"x":7.1,"y":-0.8},{"x":7.2,"y":0.9},{"x":7.3,"y":-0.6},{"x":7.6,"y":-0.3},
{"x":8,"y":2.75},{"x":8,"y":2.2},{"x":7.97,"y":1.6},{"x":8.03,"y":1.2},{"x":8,"y":1.0},{"x":7.97,"y":0.8},{"x":8.03,"y":0.6},{"x":8,"y":0.4},{"x":7.97,"y":0.2},{"x":8.03,"y":0.0},{"x":8,"y":-0.2},{"x":7.97,"y":-0.4},{"x":8.03,"y":-0.7},{"x":8,"y":-1.0},{"x":7.97,"y":-1.3},{"x":8.03,"y":-1.6},{"x":8,"y":-1.9},
{"x":8.1,"y":0.6},{"x":8.2,"y":-0.3},{"x":8.3,"y":-0.4},{"x":7.9,"y":0.3},{"x":8.6,"y":1.9},{"x":9.0,"y":0.8},
{"x":0.99,"y":1.9},{"x":1.01,"y":1.1},{"x":0.99,"y":0.5},{"x":1.01,"y":-0.1},{"x":0.99,"y":-0.5},{"x":1.01,"y":-0.9},{"x":0.99,"y":-1.3},{"x":1.01,"y":-1.7},{"x":0.99,"y":-2.3},
{"x":1.99,"y":1.0},{"x":2.01,"y":0.7},{"x":1.99,"y":0.3},{"x":2.01,"y":-0.1},{"x":1.99,"y":-0.5},{"x":2.01,"y":-0.9},{"x":1.99,"y":-1.2},{"x":2.01,"y":-1.5},
{"x":2.99,"y":1.8},{"x":3.01,"y":1.4},{"x":2.99,"y":1.1},{"x":3.01,"y":0.7},{"x":2.99,"y":0.5},{"x":3.01,"y":0.3},{"x":2.99,"y":0.0},{"x":3.01,"y":-0.2},{"x":2.99,"y":-0.4},{"x":3.01,"y":-0.7},{"x":2.99,"y":-1.0},{"x":3.01,"y":-1.3},
{"x":3.99,"y":0.9},{"x":4.01,"y":0.5},{"x":3.99,"y":0.1},{"x":4.01,"y":-0.3},{"x":3.99,"y":-0.6},{"x":4.01,"y":-0.9},{"x":3.99,"y":-1.2},
{"x":4.99,"y":1.1},{"x":5.01,"y":0.8},{"x":4.99,"y":0.6},{"x":5.01,"y":0.4},{"x":4.99,"y":0.2},{"x":5.01,"y":0.0},{"x":4.99,"y":-0.2},{"x":5.01,"y":-0.4},{"x":4.99,"y":-0.6},{"x":5.01,"y":-0.9},{"x":4.99,"y":-1.1},{"x":5.01,"y":-1.5},{"x":4.99,"y":-1.8},
{"x":5.99,"y":1.4},{"x":6.01,"y":0.9},{"x":5.99,"y":0.7},{"x":6.01,"y":0.5},{"x":5.99,"y":0.3},{"x":6.01,"y":0.1},{"x":5.99,"y":-0.1},{"x":6.01,"y":-0.3},{"x":5.99,"y":-0.6},{"x":6.01,"y":-1.0},{"x":5.99,"y":-1.4},
{"x":6.99,"y":0.9},{"x":7.01,"y":0.2},{"x":6.99,"y":-0.4},{"x":7.01,"y":-1.0},{"x":6.99,"y":-1.5},
{"x":7.99,"y":1.4},{"x":8.01,"y":0.9},{"x":7.99,"y":0.5},{"x":8.01,"y":0.1},{"x":7.99,"y":-0.3},{"x":8.01,"y":-0.6},{"x":7.99,"y":-0.9},{"x":8.01,"y":-1.2},
{"x":0,"y":1.2},{"x":0,"y":0.8},{"x":0,"y":0.4},{"x":0,"y":0.0},{"x":0,"y":-0.4},{"x":0,"y":-0.8},{"x":0.33,"y":1.0},{"x":0.33,"y":0.1},{"x":0.33,"y":-0.7},{"x":0.67,"y":1.3},{"x":0.67,"y":-0.5},{"x":0.67,"y":-1.0}],
"d_fit": [{"x":0,"y":-0.15,"lo":-0.3,"hi":0.0},{"x":1,"y":-0.18,"lo":-0.28,"hi":-0.08},{"x":2,"y":-0.1,"lo":-0.19,"hi":-0.01},{"x":3,"y":-0.05,"lo":-0.13,"hi":0.03},{"x":5,"y":-0.02,"lo":-0.1,"hi":0.06},{"x":7,"y":-0.02,"lo":-0.12,"hi":0.08},{"x":9,"y":0.03,"lo":-0.12,"hi":0.18}],
"e_pts": [
{"x":0.25,"y":2.0},{"x":0.25,"y":1.0},{"x":0.25,"y":0.8},{"x":0.25,"y":0.4},{"x":0.25,"y":-0.1},{"x":0.25,"y":-0.8},{"x":0.25,"y":-1.0},{"x":0.25,"y":-1.3},{"x":0.25,"y":-1.7},{"x":0.25,"y":-2.1},
{"x":0.275,"y":1.2},{"x":0.275,"y":0.9},
{"x":0.29,"y":1.7},{"x":0.29,"y":1.1},{"x":0.29,"y":0.6},{"x":0.29,"y":0.2},{"x":0.29,"y":-0.2},{"x":0.29,"y":-0.6},{"x":0.29,"y":-1.1},{"x":0.29,"y":-1.8},{"x":0.29,"y":-2.3},
{"x":0.295,"y":1.3},{"x":0.295,"y":0.5},{"x":0.295,"y":0.0},{"x":0.295,"y":-0.4},{"x":0.295,"y":-1.2},{"x":0.295,"y":-2.0},
{"x":0.3,"y":2.1},{"x":0.3,"y":1.4},{"x":0.3,"y":0.8},{"x":0.3,"y":0.3},{"x":0.3,"y":-0.1},{"x":0.3,"y":-0.7},{"x":0.3,"y":-1.5},
{"x":0.305,"y":0.4},{"x":0.305,"y":-0.3},{"x":0.305,"y":-0.8},{"x":0.305,"y":-1.8},
{"x":0.31,"y":1.0},{"x":0.31,"y":0.7},{"x":0.31,"y":0.2},{"x":0.31,"y":-0.2},{"x":0.31,"y":-0.6},{"x":0.31,"y":-1.3},
{"x":0.315,"y":1.9},{"x":0.315,"y":1.2},{"x":0.315,"y":0.6},{"x":0.315,"y":0.2},{"x":0.315,"y":-0.1},{"x":0.315,"y":-0.5},{"x":0.315,"y":-1.0},{"x":0.315,"y":-1.5},{"x":0.315,"y":-2.2},
{"x":0.32,"y":1.8},{"x":0.32,"y":1.2},{"x":0.32,"y":0.8},{"x":0.32,"y":0.5},{"x":0.32,"y":0.2},{"x":0.32,"y":-0.1},{"x":0.32,"y":-0.4},{"x":0.32,"y":-0.8},{"x":0.32,"y":-1.2},{"x":0.32,"y":-1.6},{"x":0.32,"y":-2.1},
{"x":0.3226,"y":4.6},{"x":0.3226,"y":-5.0},{"x":0.3226,"y":-5.6},
{"x":0.325,"y":1.7},{"x":0.325,"y":1.0},{"x":0.325,"y":0.3},{"x":0.325,"y":-0.3},{"x":0.325,"y":-0.9},{"x":0.325,"y":-1.4},{"x":0.325,"y":-2.0},
{"x":0.33,"y":1.3},{"x":0.33,"y":0.8},{"x":0.33,"y":0.4},{"x":0.33,"y":0.0},{"x":0.33,"y":-0.5},{"x":0.33,"y":-1.1},
{"x":0.335,"y":1.2},{"x":0.335,"y":0.6},{"x":0.335,"y":-0.2},{"x":0.335,"y":-0.8},{"x":0.335,"y":-2.4},
{"x":0.34,"y":1.5},{"x":0.34,"y":0.9},{"x":0.34,"y":0.4},{"x":0.34,"y":-0.1},{"x":0.34,"y":-0.6},{"x":0.34,"y":-1.0},{"x":0.34,"y":-1.9},
{"x":0.345,"y":1.3},{"x":0.345,"y":0.7},{"x":0.345,"y":0.2},{"x":0.345,"y":-0.3},{"x":0.345,"y":-0.8},{"x":0.345,"y":-1.6},
{"x":0.35,"y":1.6},{"x":0.35,"y":1.1},{"x":0.35,"y":0.7},{"x":0.35,"y":0.3},{"x":0.35,"y":0.0},{"x":0.35,"y":-0.3},{"x":0.35,"y":-0.6},{"x":0.35,"y":-1.0},{"x":0.35,"y":-1.4},{"x":0.35,"y":-2.6},
{"x":0.355,"y":1.8},{"x":0.355,"y":1.3},{"x":0.355,"y":0.8},{"x":0.355,"y":0.4},{"x":0.355,"y":0.1},{"x":0.355,"y":-0.2},{"x":0.355,"y":-0.5},{"x":0.355,"y":-0.9},{"x":0.355,"y":-1.5},{"x":0.355,"y":-2.5},{"x":0.355,"y":-3.8},
{"x":0.36,"y":2.7},{"x":0.36,"y":2.5},{"x":0.36,"y":1.4},{"x":0.36,"y":0.9},{"x":0.36,"y":0.5},{"x":0.36,"y":0.1},{"x":0.36,"y":-0.3},{"x":0.36,"y":-0.7},{"x":0.36,"y":-1.1},{"x":0.36,"y":-1.6},{"x":0.36,"y":-2.2},
{"x":0.365,"y":2.2},{"x":0.365,"y":1.5},{"x":0.365,"y":1.0},{"x":0.365,"y":0.6},{"x":0.365,"y":0.2},{"x":0.365,"y":-0.2},{"x":0.365,"y":-0.6},{"x":0.365,"y":-1.0},{"x":0.365,"y":-1.5},{"x":0.365,"y":-2.9},
{"x":0.37,"y":1.9},{"x":0.37,"y":1.3},{"x":0.37,"y":0.8},{"x":0.37,"y":0.4},{"x":0.37,"y":0.0},{"x":0.37,"y":-0.3},{"x":0.37,"y":-0.7},{"x":0.37,"y":-1.1},{"x":0.37,"y":-1.7},
{"x":0.375,"y":2.2},{"x":0.375,"y":1.4},{"x":0.375,"y":0.9},{"x":0.375,"y":0.5},{"x":0.375,"y":0.1},{"x":0.375,"y":-0.3},{"x":0.375,"y":-0.7},{"x":0.375,"y":-1.2},{"x":0.375,"y":-1.8},{"x":0.375,"y":-2.9},
{"x":0.38,"y":2.5},{"x":0.38,"y":1.7},{"x":0.38,"y":1.2},{"x":0.38,"y":0.7},{"x":0.38,"y":0.3},{"x":0.38,"y":-0.1},{"x":0.38,"y":-0.5},{"x":0.38,"y":-0.9},{"x":0.38,"y":-1.4},{"x":0.38,"y":-2.0},{"x":0.38,"y":-2.9},
{"x":0.385,"y":1.8},{"x":0.385,"y":1.1},{"x":0.385,"y":0.6},{"x":0.385,"y":0.2},{"x":0.385,"y":-0.2},{"x":0.385,"y":-0.7},{"x":0.385,"y":-1.3},{"x":0.385,"y":-2.9},
{"x":0.39,"y":2.0},{"x":0.39,"y":1.2},{"x":0.39,"y":0.6},{"x":0.39,"y":0.1},{"x":0.39,"y":-0.4},{"x":0.39,"y":-1.0},{"x":0.39,"y":-1.6},{"x":0.39,"y":-2.7},
{"x":0.395,"y":1.0},{"x":0.395,"y":0.4},{"x":0.395,"y":-0.2},{"x":0.395,"y":-0.8},{"x":0.395,"y":-1.4},
{"x":0.4,"y":2.3},{"x":0.4,"y":1.6},{"x":0.4,"y":1.0},{"x":0.4,"y":0.5},{"x":0.4,"y":0.0},{"x":0.4,"y":-0.5},{"x":0.4,"y":-1.0},{"x":0.4,"y":-1.6},{"x":0.4,"y":-2.0},
{"x":0.405,"y":2.2},{"x":0.405,"y":1.4},{"x":0.405,"y":0.8},{"x":0.405,"y":0.3},{"x":0.405,"y":-0.2},{"x":0.405,"y":-0.8},{"x":0.405,"y":-1.4},{"x":0.405,"y":-2.3},{"x":0.405,"y":-2.7},
{"x":0.407,"y":6.4},{"x":0.407,"y":3.3},{"x":0.407,"y":-6.1},
{"x":0.41,"y":2.2},{"x":0.41,"y":1.3},{"x":0.41,"y":0.7},{"x":0.41,"y":0.1},{"x":0.41,"y":-0.6},{"x":0.41,"y":-1.2},{"x":0.41,"y":-2.4},
{"x":0.415,"y":1.0},{"x":0.415,"y":0.3},{"x":0.415,"y":-0.3},{"x":0.415,"y":-1.0},{"x":0.415,"y":-1.8},
{"x":0.42,"y":1.9},{"x":0.42,"y":1.2},{"x":0.42,"y":0.6},{"x":0.42,"y":0.0},{"x":0.42,"y":-0.6},{"x":0.42,"y":-1.3},{"x":0.42,"y":-2.0},
{"x":0.425,"y":1.6},{"x":0.425,"y":1.0},{"x":0.425,"y":0.5},{"x":0.425,"y":-0.1},{"x":0.425,"y":-0.7},{"x":0.425,"y":-1.5},{"x":0.425,"y":-2.0},
{"x":0.4288,"y":4.4},{"x":0.4288,"y":3.5},{"x":0.4305,"y":3.1},{"x":0.4288,"y":2.2},{"x":0.4288,"y":1.6},{"x":0.4288,"y":1.0},{"x":0.4288,"y":0.4},{"x":0.4288,"y":-0.2},{"x":0.4288,"y":-0.8},{"x":0.4288,"y":-1.4},{"x":0.4288,"y":-2.2},{"x":0.4288,"y":-2.6},{"x":0.4305,"y":-2.9},{"x":0.4288,"y":-4.85},
{"x":0.432,"y":1.2},{"x":0.432,"y":0.6},{"x":0.432,"y":0.0},{"x":0.432,"y":-0.6},{"x":0.432,"y":-1.3},
{"x":0.435,"y":1.7},{"x":0.435,"y":0.9},{"x":0.435,"y":0.3},{"x":0.435,"y":-0.3},{"x":0.435,"y":-1.0},{"x":0.435,"y":-1.9},
{"x":0.44,"y":1.0},{"x":0.44,"y":0.5},{"x":0.44,"y":0.0},{"x":0.44,"y":-0.5},
{"x":0.45,"y":2.77},{"x":0.45,"y":0.5},{"x":0.45,"y":0.1},{"x":0.45,"y":-0.4},{"x":0.45,"y":-0.8},{"x":0.45,"y":-1.3},{"x":0.45,"y":-2.0},{"x":0.452,"y":1.9},{"x":0.452,"y":-0.8},
{"x":0.48,"y":1.4},{"x":0.48,"y":1.0},{"x":0.48,"y":0.8},{"x":0.48,"y":0.5},{"x":0.48,"y":0.2},{"x":0.48,"y":-0.2},{"x":0.48,"y":-0.5},{"x":0.48,"y":-0.8},{"x":0.48,"y":-1.1},{"x":0.48,"y":-1.6},
{"x":0.4993,"y":4.09},{"x":0.4993,"y":1.5},{"x":0.4993,"y":0.9},{"x":0.4993,"y":0.6},{"x":0.4993,"y":0.3},{"x":0.4993,"y":0.0},{"x":0.4993,"y":-0.3},{"x":0.4993,"y":-0.6},{"x":0.4993,"y":-0.9},{"x":0.4993,"y":-1.6},{"x":0.4993,"y":-3.8},
{"x":0.318,"y":0.9},{"x":0.318,"y":0.0},{"x":0.318,"y":-0.7},{"x":0.318,"y":-1.8},
{"x":0.328,"y":1.1},{"x":0.328,"y":0.1},{"x":0.328,"y":-0.6},
{"x":0.338,"y":0.9},{"x":0.338,"y":0.2},{"x":0.338,"y":-0.5},{"x":0.338,"y":-1.2},
{"x":0.348,"y":1.0},{"x":0.348,"y":0.4},{"x":0.348,"y":-0.4},{"x":0.348,"y":-1.1},
{"x":0.352,"y":1.4},{"x":0.352,"y":0.5},{"x":0.352,"y":-0.2},{"x":0.352,"y":-0.8},{"x":0.352,"y":-1.7},
{"x":0.358,"y":1.1},{"x":0.358,"y":0.6},{"x":0.358,"y":-0.4},{"x":0.358,"y":-1.2},{"x":0.358,"y":-2.0},
{"x":0.362,"y":1.8},{"x":0.362,"y":0.3},{"x":0.362,"y":-0.5},{"x":0.362,"y":-0.9},{"x":0.362,"y":-1.9},
{"x":0.368,"y":1.2},{"x":0.368,"y":0.4},{"x":0.368,"y":-0.1},{"x":0.368,"y":-0.8},{"x":0.368,"y":-1.3},
{"x":0.372,"y":1.6},{"x":0.372,"y":0.6},{"x":0.372,"y":-0.5},{"x":0.372,"y":-0.9},{"x":0.372,"y":-2.2},
{"x":0.378,"y":1.0},{"x":0.378,"y":0.2},{"x":0.378,"y":-0.4},{"x":0.378,"y":-1.0},{"x":0.378,"y":-1.6},
{"x":0.382,"y":1.4},{"x":0.382,"y":0.5},{"x":0.382,"y":-0.3},{"x":0.382,"y":-1.1},{"x":0.382,"y":-2.4},
{"x":0.388,"y":0.9},{"x":0.388,"y":0.0},{"x":0.388,"y":-0.5},{"x":0.388,"y":-1.6},
{"x":0.392,"y":1.5},{"x":0.392,"y":0.4},{"x":0.392,"y":-0.7},{"x":0.392,"y":-1.3},
{"x":0.402,"y":1.3},{"x":0.402,"y":0.2},{"x":0.402,"y":-0.3},{"x":0.402,"y":-1.3},
{"x":0.408,"y":1.7},{"x":0.408,"y":0.6},{"x":0.408,"y":-0.5},{"x":0.408,"y":-1.1},{"x":0.408,"y":-1.9},
{"x":0.412,"y":0.9},{"x":0.412,"y":0.4},{"x":0.412,"y":-0.3},{"x":0.412,"y":-1.5},
{"x":0.418,"y":1.4},{"x":0.418,"y":0.5},{"x":0.418,"y":-0.6},{"x":0.418,"y":-1.2},
{"x":0.422,"y":0.8},{"x":0.422,"y":0.3},{"x":0.422,"y":-0.3},{"x":0.422,"y":-1.6},
{"x":0.427,"y":1.3},{"x":0.427,"y":0.7},{"x":0.427,"y":0.1},{"x":0.427,"y":-0.5},{"x":0.427,"y":-1.1},{"x":0.427,"y":-1.8},
{"x":0.438,"y":0.8},{"x":0.438,"y":0.2},{"x":0.438,"y":-0.2},{"x":0.438,"y":-0.8},{"x":0.438,"y":-1.4}],
"e_fit": [{"x":0.25,"y":-0.2,"lo":-0.45,"hi":0.05},{"x":0.3,"y":-0.15,"lo":-0.26,"hi":-0.04},{"x":0.35,"y":-0.1,"lo":-0.17,"hi":-0.03},{"x":0.4,"y":-0.08,"lo":-0.15,"hi":-0.01},{"x":0.45,"y":-0.08,"lo":-0.18,"hi":0.02},{"x":0.4993,"y":-0.08,"lo":-0.25,"hi":0.09}],
"f_pts": [
{"x":2,"y":2},{"x":2.5,"y":3},{"x":3,"y":1.5},{"x":3,"y":4},{"x":3.5,"y":2.5},{"x":4,"y":5},{"x":4,"y":3},{"x":4.5,"y":6},{"x":5,"y":2},{"x":5,"y":4},{"x":5,"y":7},{"x":5.5,"y":5},{"x":6,"y":3},{"x":6,"y":8},{"x":6,"y":6},{"x":6.5,"y":4},{"x":7,"y":9},{"x":7,"y":5},{"x":7,"y":11},{"x":7.5,"y":7},{"x":8,"y":3},{"x":8,"y":10},{"x":8,"y":6},{"x":8.5,"y":13},{"x":8.5,"y":8},{"x":9,"y":5},{"x":9,"y":11},{"x":9,"y":15},{"x":9.5,"y":8},{"x":10,"y":4},{"x":10,"y":12},{"x":10,"y":9},{"x":10,"y":17},
{"x":10.5,"y":14},{"x":11,"y":6},{"x":11,"y":11},{"x":11,"y":19},{"x":11.5,"y":9},{"x":12,"y":13},{"x":12,"y":4},{"x":12,"y":22},{"x":12.5,"y":10},{"x":13,"y":15},{"x":13,"y":7},{"x":13,"y":25},{"x":13.5,"y":18},{"x":14,"y":11},{"x":14,"y":20},{"x":14,"y":5},{"x":14.5,"y":14},{"x":15,"y":8},{"x":15,"y":17},{"x":15,"y":28},{"x":15.5,"y":12},{"x":16,"y":22},{"x":16,"y":6},{"x":16,"y":14},{"x":16.5,"y":19},{"x":17,"y":10},{"x":17,"y":25},{"x":17,"y":32},{"x":17.5,"y":15},{"x":18,"y":8},{"x":18,"y":20},{"x":18,"y":27},{"x":18.5,"y":13},{"x":19,"y":18},{"x":19,"y":54},{"x":19,"y":35},{"x":19.5,"y":23},{"x":20,"y":12},{"x":20,"y":28},{"x":20,"y":64.6},{"x":20.5,"y":20},{"x":21,"y":17},{"x":21,"y":33},{"x":21.1,"y":83.8},{"x":21.5,"y":25},{"x":22,"y":14},{"x":22,"y":38},{"x":22,"y":22},{"x":22.5,"y":30},{"x":22.9,"y":116.8},{"x":23,"y":18},{"x":23,"y":42},{"x":23.5,"y":27},{"x":24,"y":12},{"x":24,"y":33},{"x":24,"y":46},{"x":24.5,"y":22},{"x":25,"y":17},{"x":25,"y":29},{"x":25,"y":38},{"x":25.5,"y":51},{"x":26,"y":24},{"x":26,"y":36},{"x":26,"y":56},{"x":26.5,"y":14},{"x":27,"y":31},{"x":27,"y":3},{"x":27,"y":44},{"x":27.5,"y":66},{"x":28,"y":19},{"x":28,"y":7},{"x":28,"y":73},{"x":28.5,"y":36},{"x":28.9,"y":88},{"x":29,"y":1.5},{"x":29,"y":27},{"x":29.5,"y":0.8},{"x":29.5,"y":48},{"x":30,"y":40},{"x":30,"y":68},{"x":30,"y":22},{"x":30.5,"y":31},{"x":31,"y":50},{"x":31,"y":14},{"x":31.5,"y":44},{"x":32,"y":26},{"x":32,"y":37},{"x":32.5,"y":59},{"x":33,"y":34},{"x":33,"y":47},{"x":33.5,"y":18},{"x":34,"y":42},{"x":34,"y":28},{"x":34.5,"y":56},{"x":35,"y":38},{"x":35,"y":9},{"x":35,"y":72},{"x":35.5,"y":49},{"x":36,"y":31},{"x":36,"y":44},{"x":36.5,"y":5},{"x":37,"y":58},{"x":37,"y":36},{"x":37.5,"y":41},{"x":38,"y":22},{"x":38,"y":52},{"x":38.5,"y":70},{"x":39,"y":33},{"x":39,"y":47},{"x":39.5,"y":14},{"x":40,"y":44},{"x":40,"y":28},{"x":40.6,"y":83.6},{"x":40.8,"y":81.5},{"x":41,"y":56},{"x":41,"y":38},{"x":41.5,"y":62},{"x":42,"y":75},{"x":42,"y":30},{"x":42.5,"y":46},{"x":43,"y":73},{"x":43,"y":52},{"x":43.5,"y":36},{"x":44,"y":77},{"x":44,"y":58},{"x":44.5,"y":25},{"x":45,"y":48},{"x":45,"y":62},{"x":45.5,"y":40},{"x":46,"y":4},{"x":46,"y":55},{"x":46.5,"y":32},{"x":47,"y":66},{"x":47,"y":45},{"x":47.5,"y":20},{"x":48,"y":72},{"x":48,"y":50},{"x":48.5,"y":71},{"x":49,"y":38},{"x":49,"y":60},{"x":49.5,"y":28},{"x":50,"y":47},{"x":50,"y":68},{"x":50.5,"y":33},{"x":51,"y":75},{"x":51,"y":55},{"x":52,"y":42},{"x":52,"y":24},{"x":52.8,"y":87.4},{"x":53,"y":63},{"x":53.5,"y":50},{"x":54,"y":36},{"x":54,"y":58},{"x":55,"y":45},{"x":55.5,"y":17},{"x":55.5,"y":64},{"x":56,"y":30},{"x":56,"y":55},{"x":56.8,"y":97.2},{"x":57,"y":10},{"x":57,"y":40},{"x":57.5,"y":61},{"x":58,"y":48},{"x":58,"y":22},{"x":59,"y":1},{"x":59,"y":56},{"x":59.5,"y":35},{"x":60,"y":13},{"x":60,"y":70},{"x":60.5,"y":44},{"x":61,"y":73},{"x":61,"y":52},{"x":61.5,"y":28},{"x":62,"y":66},{"x":62.2,"y":95.5},{"x":62.5,"y":40},{"x":63,"y":58},{"x":63,"y":5},{"x":63.5,"y":72},{"x":63.8,"y":148.2},{"x":64,"y":30},{"x":64,"y":4},{"x":64.5,"y":62},{"x":65,"y":50},{"x":65,"y":24},{"x":65.4,"y":110.3},{"x":65.5,"y":74},{"x":66,"y":40},{"x":66,"y":67},{"x":66.5,"y":28},{"x":67,"y":55},{"x":67,"y":80},{"x":67.5,"y":38},{"x":68,"y":70},{"x":68,"y":45},{"x":68.4,"y":112.5},{"x":68.6,"y":105.7},{"x":69,"y":25},{"x":69,"y":60},{"x":69.3,"y":133.6},{"x":69.8,"y":124.5},{"x":70,"y":75},{"x":70,"y":34},{"x":70.5,"y":93},{"x":70.8,"y":147.8},{"x":71,"y":48},{"x":71,"y":65},{"x":71.5,"y":16},{"x":72,"y":72},{"x":72,"y":40},{"x":72.5,"y":94},{"x":73,"y":115.6},{"x":73,"y":55},{"x":73.5,"y":11},{"x":73.6,"y":113.2},{"x":74,"y":68},{"x":74,"y":30},{"x":74.5,"y":100},{"x":75,"y":46},{"x":75,"y":83},{"x":75.5,"y":95},{"x":75.5,"y":62},{"x":76,"y":26},{"x":76,"y":90},{"x":76.5,"y":40},{"x":76.5,"y":8},{"x":77,"y":94},{"x":77,"y":52},{"x":77.5,"y":113.8},{"x":78,"y":38},{"x":78,"y":73},{"x":78.5,"y":86},{"x":79,"y":26},{"x":79,"y":37},{"x":80,"y":82},{"x":80.6,"y":111.3},{"x":81,"y":67},{"x":82.1,"y":137.2},{"x":84.9,"y":21.9},{"x":87.6,"y":86.4},{"x":97.3,"y":38.5},{"x":101.4,"y":80.4},
{"x":2.5,"y":1.8},{"x":3,"y":2.8},{"x":3.5,"y":4.2},{"x":4,"y":2},{"x":4.5,"y":3.5},{"x":5,"y":5.5},{"x":5.5,"y":3},{"x":6,"y":4.5},{"x":6.5,"y":7},{"x":7,"y":3.5},{"x":7.5,"y":5.5},{"x":8,"y":8.5},{"x":8.5,"y":4.5},{"x":9,"y":7},{"x":9.5,"y":11},{"x":10,"y":6},{"x":10.5,"y":9},{"x":11,"y":14},{"x":11.5,"y":7},{"x":12,"y":10},{"x":12.5,"y":16},{"x":13,"y":9},{"x":13.5,"y":12},{"x":14,"y":17},{"x":14.5,"y":8},{"x":15,"y":13},{"x":15.5,"y":20},{"x":16,"y":10},{"x":16.5,"y":15},{"x":17,"y":21},{"x":17.5,"y":12},{"x":18,"y":16},{"x":18.5,"y":24},{"x":19,"y":11},{"x":19.5,"y":15},{"x":20,"y":22},{"x":20.5,"y":30},{"x":21,"y":12},{"x":21.5,"y":19},{"x":22,"y":27},{"x":22.5,"y":16},{"x":23,"y":33},{"x":23.5,"y":21},{"x":24,"y":29},{"x":24.5,"y":36},{"x":25,"y":24},{"x":25.5,"y":19},{"x":26,"y":31},{"x":26.5,"y":41},{"x":27,"y":23},{"x":27.5,"y":35},{"x":28,"y":28},{"x":28.5,"y":45},{"x":29,"y":17},{"x":29.5,"y":38},{"x":30,"y":31},{"x":31,"y":24},{"x":32,"y":47},{"x":33,"y":29},{"x":34,"y":36},{"x":35,"y":25},{"x":36,"y":52},{"x":37,"y":30},{"x":38,"y":42},{"x":39,"y":58},{"x":40,"y":36},{"x":41,"y":27},{"x":42,"y":49},{"x":43,"y":41},{"x":44,"y":34},{"x":45,"y":55},{"x":46,"y":44},{"x":47,"y":37},{"x":48,"y":60},{"x":49,"y":46},{"x":50,"y":40},{"x":51,"y":64},{"x":53,"y":44},{"x":55,"y":52},{"x":57,"y":70},{"x":59,"y":47},{"x":61,"y":60},{"x":63,"y":45},{"x":65,"y":62},{"x":67,"y":68},{"x":69,"y":50},{"x":71,"y":74},{"x":73,"y":64},{"x":75,"y":35},{"x":77,"y":72},{"x":79,"y":60},
{"x":12,"y":30},{"x":14,"y":36},{"x":16,"y":33},{"x":18,"y":40},{"x":23,"y":50},{"x":25,"y":58},{"x":27,"y":67},{"x":29,"y":50}],
"f_fit": [{"x":2,"y":2.3,"lo":1.5,"hi":3},{"x":10,"y":9.8,"lo":9.2,"hi":10.4},{"x":25,"y":24,"lo":23,"hi":25},{"x":50,"y":47,"lo":45.5,"hi":48.5},{"x":75,"y":67.5,"lo":65.5,"hi":69.5},{"x":101.4,"y":88,"lo":84.5,"hi":91.5}],
"f_id": [{"x":-2.77,"y":-2.77},{"x":106.7,"y":106.7}],
"g_pts": [
{"x":1,"y":1},{"x":1.5,"y":2},{"x":2,"y":1.5},{"x":2,"y":3},{"x":2.5,"y":2.5},{"x":3,"y":3.5},{"x":3,"y":2},{"x":3.5,"y":4},{"x":4,"y":4.5},{"x":4,"y":3},{"x":4.5,"y":5},{"x":5,"y":5.5},{"x":5,"y":4},{"x":5.5,"y":6.5},{"x":6,"y":6},{"x":6,"y":5},{"x":6.5,"y":7},{"x":7,"y":7.5},{"x":7,"y":6},{"x":7.5,"y":8.5},{"x":8,"y":8},{"x":8,"y":7},{"x":8.5,"y":9.5},{"x":9,"y":9},{"x":9,"y":8},{"x":9.5,"y":10.5},{"x":10,"y":11},{"x":10,"y":9},{"x":10,"y":4},{"x":10.5,"y":11},{"x":11,"y":12},{"x":11,"y":10},{"x":11.5,"y":12.5},{"x":12,"y":13},{"x":12,"y":11},{"x":12.5,"y":14},{"x":13,"y":13.5},{"x":13,"y":12},{"x":13.5,"y":15},{"x":14,"y":15},{"x":14,"y":13},{"x":14.5,"y":16},{"x":15,"y":16.5},{"x":15,"y":14},{"x":15.5,"y":17},{"x":16,"y":17},{"x":16,"y":15},{"x":16.5,"y":18.5},{"x":17,"y":18},{"x":17,"y":16},{"x":17.5,"y":19},{"x":18,"y":20},{"x":18,"y":17},{"x":18.5,"y":20},{"x":19,"y":21},{"x":19,"y":18},{"x":19,"y":34},{"x":19.5,"y":22},{"x":20,"y":21},{"x":20,"y":19},{"x":20.5,"y":23},{"x":21,"y":22},{"x":21,"y":20},{"x":21.5,"y":24},{"x":21.7,"y":73.2},{"x":22,"y":24},{"x":22,"y":21},{"x":22.5,"y":25},{"x":23,"y":26},{"x":23,"y":22},{"x":23.5,"y":27},{"x":24,"y":26},{"x":24,"y":23},{"x":24.5,"y":11},{"x":24.5,"y":28},{"x":25,"y":12},{"x":25,"y":27},{"x":25,"y":31},{"x":25.5,"y":29},{"x":26,"y":28},{"x":26,"y":25},{"x":26.5,"y":30},{"x":27,"y":29},{"x":27,"y":32},{"x":27.5,"y":31},{"x":28,"y":30},{"x":28,"y":27},{"x":28.5,"y":34},{"x":29,"y":32},{"x":29,"y":37},{"x":29.5,"y":33},{"x":30,"y":31},{"x":30,"y":38},{"x":30.5,"y":35},{"x":31,"y":33},{"x":31,"y":40},{"x":31.5,"y":54},{"x":32,"y":34},{"x":32,"y":38},{"x":32,"y":73},{"x":32.5,"y":45},{"x":33,"y":36},{"x":33,"y":42},{"x":33.5,"y":38},{"x":34,"y":37},{"x":34,"y":44},{"x":35,"y":40},{"x":35,"y":35},{"x":35.5,"y":79.5},{"x":36,"y":39},{"x":36,"y":46},{"x":37,"y":42},{"x":37,"y":50},{"x":38,"y":41},{"x":38,"y":47},{"x":38.5,"y":35},{"x":39,"y":45},{"x":39,"y":50},{"x":40,"y":43},{"x":40,"y":49},{"x":40.5,"y":42},{"x":41,"y":47},{"x":42,"y":65.5},{"x":42,"y":45},{"x":42,"y":52},{"x":43,"y":47},{"x":43,"y":50},{"x":44,"y":49},{"x":44,"y":56},{"x":45,"y":50},{"x":45,"y":47},{"x":45.5,"y":70},{"x":46,"y":52},{"x":46,"y":57},{"x":47,"y":49},{"x":47.5,"y":68},{"x":48,"y":54},{"x":48,"y":50},{"x":49,"y":51},{"x":49,"y":62},{"x":50,"y":53},{"x":50,"y":58},{"x":51,"y":55},{"x":51.5,"y":47},{"x":52,"y":59},{"x":52,"y":77},{"x":53,"y":56},{"x":54,"y":60},{"x":54,"y":62},{"x":55,"y":58},{"x":55,"y":64},{"x":56,"y":60},{"x":56.5,"y":88},{"x":57,"y":61},{"x":57,"y":116.9},{"x":57.5,"y":84},{"x":58,"y":57},{"x":58,"y":66},{"x":59,"y":63},{"x":59,"y":60},{"x":60,"y":52},{"x":60,"y":66},{"x":61,"y":90.5},{"x":61,"y":64},{"x":62,"y":68},{"x":62,"y":61},{"x":63,"y":70},{"x":63,"y":65},{"x":64,"y":80},{"x":64,"y":68},{"x":65,"y":70},{"x":65,"y":52.5},{"x":66,"y":73},{"x":66,"y":68},{"x":67,"y":72},{"x":67,"y":82},{"x":68,"y":75},{"x":68,"y":71},{"x":69,"y":74},{"x":69,"y":79},{"x":70,"y":77},{"x":70,"y":72},{"x":71,"y":76},{"x":72,"y":80},{"x":72,"y":74},{"x":73,"y":85},{"x":73,"y":77},{"x":74,"y":78},{"x":75,"y":82},{"x":75,"y":95},{"x":76,"y":80},{"x":77,"y":94},{"x":77,"y":83},{"x":78,"y":84},{"x":79,"y":56},{"x":79,"y":78},{"x":80,"y":85},{"x":80,"y":97},{"x":81.4,"y":49.2},{"x":82,"y":90},{"x":83,"y":97},{"x":84,"y":75},{"x":85,"y":89},{"x":86,"y":92},{"x":88,"y":94},{"x":89,"y":81},{"x":90,"y":93},{"x":91,"y":94},{"x":92,"y":92},{"x":93,"y":97},{"x":94,"y":87},{"x":95,"y":104},{"x":96,"y":111},{"x":97,"y":112},{"x":98,"y":109},{"x":99,"y":112},{"x":99.2,"y":80.2},{"x":100.3,"y":133.5},{"x":101,"y":114},{"x":107.9,"y":124},{"x":109.5,"y":101},{"x":109.9,"y":147.7},{"x":110.6,"y":147.7},{"x":110,"y":136.9},{"x":116,"y":115.4},
{"x":3.2,"y":3.1},{"x":3.8,"y":4.2},{"x":4.3,"y":4.1},{"x":4.8,"y":5.3},{"x":5.3,"y":5.0},{"x":5.8,"y":6.4},{"x":6.3,"y":6.3},{"x":6.8,"y":7.4},{"x":7.3,"y":6.8},{"x":7.8,"y":8.6},{"x":8.3,"y":8.2},{"x":8.8,"y":9.8},{"x":9.3,"y":8.7},{"x":9.8,"y":10.9},{"x":10.3,"y":10.2},{"x":10.8,"y":11.8},{"x":11.3,"y":10.6},{"x":11.8,"y":12.9},{"x":12.3,"y":12.4},{"x":12.8,"y":14.2},{"x":13.3,"y":12.5},{"x":13.8,"y":15.2},{"x":14.3,"y":14.6},{"x":14.8,"y":16.4},{"x":15.3,"y":14.3},{"x":15.8,"y":17.5},{"x":16.3,"y":16.6},{"x":16.8,"y":18.6},{"x":17.3,"y":16.2},{"x":17.8,"y":19.8},{"x":18.3,"y":18.8},{"x":18.8,"y":21},{"x":19.3,"y":17.9},{"x":19.8,"y":22},{"x":20.3,"y":20.9},{"x":20.8,"y":23.5},{"x":21.3,"y":20},{"x":21.8,"y":24.3},{"x":22.3,"y":23.1},{"x":22.8,"y":25.6},{"x":23.3,"y":21.5},{"x":23.8,"y":26.6},{"x":24.3,"y":25.1},{"x":24.8,"y":27.8},{"x":25.3,"y":23.7},{"x":25.8,"y":28.9},{"x":26.3,"y":26.6},{"x":26.8,"y":30},{"x":27.3,"y":25.5},{"x":27.8,"y":31.2},{"x":28.3,"y":29.1},{"x":28.8,"y":32.3},{"x":29.3,"y":27.5},{"x":29.8,"y":33.5},{"x":30.8,"y":32.4},{"x":31.8,"y":35.8},{"x":32.8,"y":31},{"x":33.8,"y":37.5},{"x":34.8,"y":36.5},{"x":35.8,"y":40.3},{"x":36.8,"y":34.6},{"x":37.8,"y":42.6},{"x":38.8,"y":40.6},{"x":39.8,"y":44.7},{"x":40.8,"y":38.8},{"x":41.8,"y":46.3},{"x":42.8,"y":44.8},{"x":43.8,"y":48.9},{"x":44.8,"y":42.6},{"x":45.8,"y":51.4},{"x":46.8,"y":48.5},{"x":47.8,"y":52.8},{"x":48.8,"y":46.2},{"x":49.8,"y":54.5},{"x":51,"y":50.5},{"x":53,"y":58},{"x":55,"y":55},{"x":57,"y":63},{"x":59,"y":58},{"x":62,"y":66},{"x":64,"y":63},{"x":66,"y":70},{"x":68,"y":67},{"x":70,"y":75},{"x":72,"y":71},{"x":74,"y":80},{"x":76,"y":74},{"x":78,"y":85},{"x":80,"y":79},{"x":85,"y":86},{"x":88,"y":90},{"x":91,"y":92},
{"x":14,"y":11},{"x":18,"y":14.5},{"x":22,"y":19},{"x":26,"y":22},{"x":30,"y":27},{"x":34,"y":31},{"x":38,"y":35},{"x":25,"y":20.5}],
"g_fit": [{"x":1,"y":1.2,"lo":0.5,"hi":1.9},{"x":30,"y":31.3,"lo":30.8,"hi":31.8},{"x":60,"y":62.5,"lo":61.8,"hi":63.2},{"x":90,"y":93.5,"lo":92.5,"hi":94.5},{"x":116,"y":121,"lo":119,"hi":123}],
"g_id": [{"x":-4.8,"y":-4.8},{"x":122,"y":122}]
},
"concat": [
{
"width": 301.3, "height": 225,
"title": {"text": "A", "offset": 4},
"layer": [
{"data": {"name": "a_pi"}, "mark": {"type": "area", "color": "#d5d5d5", "opacity": 1},
 "encoding": {
  "x": {"field": "x", "type": "quantitative", "scale": {"domain": [-0.58, 9.47], "nice": false, "zero": false}, "axis": {"title": "Time after dose (h)", "values": [0, 2.5, 5, 7.5], "format": ".1f"}},
  "y": {"field": "lo", "type": "quantitative", "scale": {"domain": [-8.9, 192], "nice": false, "zero": false}, "axis": {"title": "Prediction−corrected concentration (µg l⁻¹)", "values": [0, 50, 100, 150], "titleY": 98}},
  "y2": {"field": "hi"}, "detail": {"field": "g"}}},
{"data": {"name": "a_med"}, "mark": {"type": "area", "color": "#b8b8b8", "opacity": 1},
 "encoding": {"x": {"field": "x", "type": "quantitative"}, "y": {"field": "lo", "type": "quantitative"}, "y2": {"field": "hi"}}},
{"data": {"name": "a_pts"}, "mark": {"type": "circle", "size": 8, "color": "black", "opacity": 1},
 "encoding": {"x": {"field": "x", "type": "quantitative"}, "y": {"field": "y", "type": "quantitative"}}},
{"data": {"name": "a_line"}, "mark": {"type": "line", "color": "black", "strokeWidth": 1.1, "strokeDash": [4, 2.5]},
 "encoding": {"x": {"field": "x", "type": "quantitative"}, "y": {"field": "y", "type": "quantitative"}, "detail": {"field": "g"}}}
]
},
{
"width": 304, "height": 225,
"title": {"text": "B", "offset": 4},
"layer": [
{"data": {"name": "b_pi"}, "mark": {"type": "area", "color": "#d5d5d5", "opacity": 1},
 "encoding": {
  "x": {"field": "x", "type": "quantitative", "scale": {"domain": [-0.39, 8.37], "nice": false, "zero": false}, "axis": {"title": "Time after dose (h)", "values": [0, 2, 4, 6, 8]}},
  "y": {"field": "lo", "type": "quantitative", "scale": {"domain": [0.63, 53.3], "nice": false, "zero": false}, "axis": {"title": "Prediction−corrected concentration (µg l⁻¹)", "values": [10, 20, 30, 40, 50], "titleY": 92}},
  "y2": {"field": "hi"}, "detail": {"field": "g"}}},
{"data": {"name": "b_med"}, "mark": {"type": "area", "color": "#b8b8b8", "opacity": 1},
 "encoding": {"x": {"field": "x", "type": "quantitative"}, "y": {"field": "lo", "type": "quantitative"}, "y2": {"field": "hi"}}},
{"data": {"name": "b_pts"}, "mark": {"type": "circle", "size": 8, "color": "black", "opacity": 1},
 "encoding": {"x": {"field": "x", "type": "quantitative"}, "y": {"field": "y", "type": "quantitative"}}},
{"data": {"name": "b_line"}, "mark": {"type": "line", "color": "black", "strokeWidth": 1.1, "strokeDash": [4, 2.5]},
 "encoding": {"x": {"field": "x", "type": "quantitative"}, "y": {"field": "y", "type": "quantitative"}, "detail": {"field": "g"}}}
]
},
{
"width": 263.3, "height": 269.7,
"title": {"text": "C", "offset": 0},
"layer": [
{"data": {"name": "c_pts"}, "mark": {"type": "circle", "size": 8, "color": "black", "opacity": 1},
 "encoding": {
  "x": {"field": "x", "type": "quantitative", "scale": {"domain": [-3.05, 107], "nice": false, "zero": false}, "axis": {"title": "Population−predicted concentration (µg l⁻¹)", "values": [0, 25, 50, 75, 100], "domain": false}},
  "y": {"field": "y", "type": "quantitative", "scale": {"domain": [-6.71, 7.21], "nice": false, "zero": false}, "axis": {"title": "Conditional weighted residual value", "values": [-4, 0, 4]}}}},
{"data": {"name": "c_fit"}, "mark": {"type": "area", "color": "#d9d9d9", "opacity": 0.85},
 "encoding": {"x": {"field": "x", "type": "quantitative"}, "y": {"field": "lo", "type": "quantitative"}, "y2": {"field": "hi"}}},
{"data": {"name": "c_fit"}, "mark": {"type": "line", "color": "#333333", "strokeWidth": 0.7, "strokeDash": [3, 1.2, 1, 1.2]},
 "encoding": {"x": {"field": "x", "type": "quantitative"}, "y": {"field": "y", "type": "quantitative"}}},
{"data": {"values": [{"v": 0}]}, "mark": {"type": "rule", "color": "#808080", "strokeWidth": 1.4},
 "encoding": {"y": {"field": "v", "type": "quantitative"}}}
]
},
{
"width": 263, "height": 269.7,
"title": {"text": "D", "offset": 0},
"layer": [
{"data": {"name": "d_pts"}, "mark": {"type": "circle", "size": 8, "color": "black", "opacity": 1},
 "encoding": {
  "x": {"field": "x", "type": "quantitative", "scale": {"domain": [-0.44, 9.45], "nice": false, "zero": false}, "axis": {"title": "Time after dose (h)", "values": [0, 2.5, 5, 7.5], "format": ".1f", "domain": false}},
  "y": {"field": "y", "type": "quantitative", "scale": {"domain": [-6.71, 7.21], "nice": false, "zero": false}, "axis": {"title": "Conditional weighted residual value", "values": [-4, 0, 4]}}}},
{"data": {"name": "d_fit"}, "mark": {"type": "area", "color": "#d9d9d9", "opacity": 0.85},
 "encoding": {"x": {"field": "x", "type": "quantitative"}, "y": {"field": "lo", "type": "quantitative"}, "y2": {"field": "hi"}}},
{"data": {"name": "d_fit"}, "mark": {"type": "line", "color": "#333333", "strokeWidth": 0.7, "strokeDash": [3, 1.2, 1, 1.2]},
 "encoding": {"x": {"field": "x", "type": "quantitative"}, "y": {"field": "y", "type": "quantitative"}}},
{"data": {"values": [{"v": 0}]}, "mark": {"type": "rule", "color": "#808080", "strokeWidth": 1.4},
 "encoding": {"y": {"field": "v", "type": "quantitative"}}}
]
},
{
"width": 263.3, "height": 266.6,
"title": {"text": ["", "E"], "lineHeight": 4, "offset": 2},
"layer": [
{"data": {"name": "e_pts"}, "mark": {"type": "circle", "size": 8, "color": "black", "opacity": 1},
 "encoding": {
  "x": {"field": "x", "type": "quantitative", "scale": {"domain": [0.2376, 0.5104], "nice": false, "zero": false}, "axis": {"title": "Haematocrit", "values": [0.25, 0.3, 0.35, 0.4, 0.45, 0.5], "format": ".2f", "domain": false}},
  "y": {"field": "y", "type": "quantitative", "scale": {"domain": [-6.7, 6.97], "nice": false, "zero": false}, "axis": {"title": "Conditional weighted residual value", "values": [-4, 0, 4]}}}},
{"data": {"name": "e_fit"}, "mark": {"type": "area", "color": "#d9d9d9", "opacity": 0.85},
 "encoding": {"x": {"field": "x", "type": "quantitative"}, "y": {"field": "lo", "type": "quantitative"}, "y2": {"field": "hi"}}},
{"data": {"name": "e_fit"}, "mark": {"type": "line", "color": "#333333", "strokeWidth": 0.7, "strokeDash": [3, 1.2, 1, 1.2]},
 "encoding": {"x": {"field": "x", "type": "quantitative"}, "y": {"field": "y", "type": "quantitative"}}},
{"data": {"values": [{"v": 0}]}, "mark": {"type": "rule", "color": "#808080", "strokeWidth": 1.4},
 "encoding": {"y": {"field": "v", "type": "quantitative"}}}
]
},
{
"width": 260.6, "height": 265.3,
"title": {"text": ["", "F"], "lineHeight": 4, "offset": 2},
"layer": [
{"data": {"name": "f_pts"}, "mark": {"type": "circle", "size": 8, "color": "black", "opacity": 1},
 "encoding": {
  "x": {"field": "x", "type": "quantitative", "scale": {"domain": [-2.77, 106.7], "nice": false, "zero": false}, "axis": {"title": "Population−predicted concentration (µg l⁻¹)", "values": [0, 25, 50, 75, 100]}},
  "y": {"field": "y", "type": "quantitative", "scale": {"domain": [-6.06, 154.8], "nice": false, "zero": false}, "axis": {"title": "Observed concentration (µg l⁻¹)", "values": [0, 50, 100, 150]}}}},
{"data": {"name": "f_fit"}, "mark": {"type": "area", "color": "#d9d9d9", "opacity": 0.85},
 "encoding": {"x": {"field": "x", "type": "quantitative"}, "y": {"field": "lo", "type": "quantitative"}, "y2": {"field": "hi"}}},
{"data": {"name": "f_fit"}, "mark": {"type": "line", "color": "#333333", "strokeWidth": 0.7, "strokeDash": [3, 1.2, 1, 1.2]},
 "encoding": {"x": {"field": "x", "type": "quantitative"}, "y": {"field": "y", "type": "quantitative"}}},
{"data": {"name": "f_id"}, "mark": {"type": "line", "color": "black", "strokeWidth": 0.8},
 "encoding": {"x": {"field": "x", "type": "quantitative"}, "y": {"field": "y", "type": "quantitative"}}}
]
},
{
"width": 252.6, "height": 250.7,
"title": {"text": ["", "G"], "lineHeight": 15, "offset": 4},
"layer": [
{"data": {"name": "g_pts"}, "mark": {"type": "circle", "size": 8, "color": "black", "opacity": 1},
 "encoding": {
  "x": {"field": "x", "type": "quantitative", "scale": {"domain": [-4.8, 122], "nice": false, "zero": false}, "axis": {"title": "Individual predicted concentration (µg l⁻¹)", "values": [0, 30, 60, 90, 120]}},
  "y": {"field": "y", "type": "quantitative", "scale": {"domain": [-7.6, 151], "nice": false, "zero": false}, "axis": {"title": "Observed concentration (µg l⁻¹)", "values": [0, 50, 100, 150]}}}},
{"data": {"name": "g_fit"}, "mark": {"type": "area", "color": "#d9d9d9", "opacity": 0.85},
 "encoding": {"x": {"field": "x", "type": "quantitative"}, "y": {"field": "lo", "type": "quantitative"}, "y2": {"field": "hi"}}},
{"data": {"name": "g_fit"}, "mark": {"type": "line", "color": "#333333", "strokeWidth": 0.7, "strokeDash": [3, 1.2, 1, 1.2]},
 "encoding": {"x": {"field": "x", "type": "quantitative"}, "y": {"field": "y", "type": "quantitative"}}},
{"data": {"name": "g_id"}, "mark": {"type": "line", "color": "black", "strokeWidth": 0.8},
 "encoding": {"x": {"field": "x", "type": "quantitative"}, "y": {"field": "y", "type": "quantitative"}}}
]
}
],
"config": {
"view": {"stroke": null},
"font": "Liberation Sans, DejaVu Sans",
"axis": {"grid": false, "domainColor": "#1a1a1a", "domainWidth": 1, "tickColor": "#333333", "tickSize": 2, "tickWidth": 0.6, "labelFontSize": 5, "labelColor": "#4d4d4d", "labelPadding": 1, "labelFont": "Liberation Sans, DejaVu Sans", "labelFlush": false, "titleFontSize": 6.3, "titleFontWeight": "normal", "titleColor": "#1a1a1a", "titleFont": "Liberation Sans, DejaVu Sans", "titlePadding": 0.5},
"axisY": {"titleX": -14.5, "titleBaseline": "bottom"},
"title": {"fontSize": 14, "font": "Liberation Sans", "fontWeight": "normal", "anchor": "start", "frame": "group", "dx": -16.5, "color": "black"}
}
}
